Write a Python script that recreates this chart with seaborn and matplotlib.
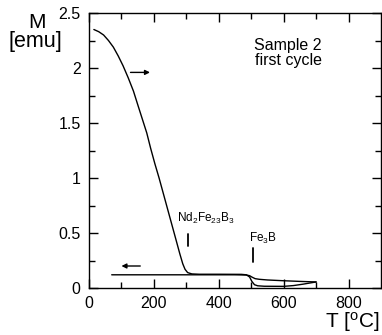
import matplotlib
matplotlib.use("Agg")
import matplotlib.pyplot as plt
import seaborn as sns
import pandas as pd

# Thermomagnetic curve, sample 2, first cycle
heat_T = [15, 30, 45, 60, 75, 90, 105, 121, 137, 152, 165, 178, 190, 203,
          216, 229, 242, 255, 268, 280, 289, 296, 304, 317, 340,
          400, 470, 485, 495, 502, 510, 520, 540, 600, 630, 660, 700]
heat_M = [2.35, 2.33, 2.30, 2.25, 2.19, 2.11, 2.02, 1.91, 1.79, 1.65, 1.53,
          1.41, 1.27, 1.13, 1.00, 0.86, 0.72, 0.58, 0.44, 0.31, 0.22, 0.17,
          0.14, 0.128, 0.125,
          0.125, 0.124, 0.12, 0.10, 0.06, 0.03, 0.02, 0.016, 0.015, 0.022,
          0.035, 0.055]
cool_T = [700, 650, 600, 550, 525, 512, 503, 495, 485, 450, 300, 200, 100, 70]
cool_M = [0.055, 0.06, 0.066, 0.073, 0.079, 0.085, 0.098, 0.112, 0.118,
          0.12, 0.12, 0.12, 0.12, 0.12]

x_ticks = [0, 200, 400, 600, 800]
y_ticks = [0, 0.5, 1, 1.5, 2, 2.5]
y_tick_labels = ["0", "0.5", "1", "1.5", "2", "2.5"]

sns.set_theme(style="ticks")
plt.rcParams["font.family"] = ["Liberation Sans", "DejaVu Sans"]
plt.rcParams["mathtext.default"] = "regular"

W, H = 382, 335
fig = plt.figure(figsize=(W / 100, H / 100), dpi=100)
ax = fig.add_axes([89 / W, 47 / H, 292 / W, 275 / H])

heat = pd.DataFrame({"T": heat_T, "M": heat_M})
cool = pd.DataFrame({"T": cool_T, "M": cool_M})
sns.lineplot(data=heat, x="T", y="M", sort=False, color="black", lw=1.0, ax=ax)
sns.lineplot(data=cool, x="T", y="M", sort=False, color="black", lw=1.0, ax=ax)

ax.set_xlim(0, 900)
ax.set_ylim(0, 2.5)
ax.set_xticks(x_ticks)
ax.set_yticks(y_ticks)
ax.set_yticklabels(y_tick_labels)
ax.set_xticks(range(100, 900, 200), minor=True)
ax.set_yticks([0.25, 0.75, 1.25, 1.75, 2.25], minor=True)
ax.tick_params(which="both", direction="in", top=True, right=True,
               color="black", width=1.0, labelsize=11.5, labelcolor="black")
ax.tick_params(which="major", length=6.5, pad=6)
ax.tick_params(which="minor", length=4.3)
ax.set_xlabel("")
ax.set_ylabel("")
for s in ax.spines.values():
    s.set_color("black")
    s.set_linewidth(1.0)

# direction arrows
ax.annotate("", xy=(188, 1.96), xytext=(128, 1.96),
            arrowprops=dict(arrowstyle="-|>", color="black", lw=1.0,
                            mutation_scale=7, shrinkA=0, shrinkB=0))
ax.annotate("", xy=(100, 0.20), xytext=(158, 0.20),
            arrowprops=dict(arrowstyle="-|>", color="black", lw=1.0,
                            mutation_scale=7, shrinkA=0, shrinkB=0))

# phase markers
ax.plot([306, 306], [0.38, 0.49], color="black", lw=1.3)
ax.text(272, 0.60, r"Nd$_2$Fe$_{23}$B$_3$", fontsize=8.5, ha="left",
        va="baseline", color="black")
ax.plot([507, 507], [0.24, 0.36], color="black", lw=1.3)
ax.text(494, 0.42, r"Fe$_3$B", fontsize=8.5, ha="left", va="baseline",
        color="black")

ax.text(614, 2.14, "Sample 2\nfirst cycle", fontsize=11.5, ha="center",
        va="center", color="black", linespacing=1.0)

# axis titles
fig.text(28 / W, 1 - 28 / H, "M", fontsize=15, ha="left", va="baseline",
         color="black")
fig.text(9 / W, 1 - 47 / H, "[emu]", fontsize=15.5, ha="left",
         va="baseline", color="black")
fig.text(380 / W, 1 - 328 / H, r"T [$^{o}$C]", fontsize=15, ha="right",
         va="baseline", color="black")

fig.savefig("out.png", dpi=100, facecolor="white")
